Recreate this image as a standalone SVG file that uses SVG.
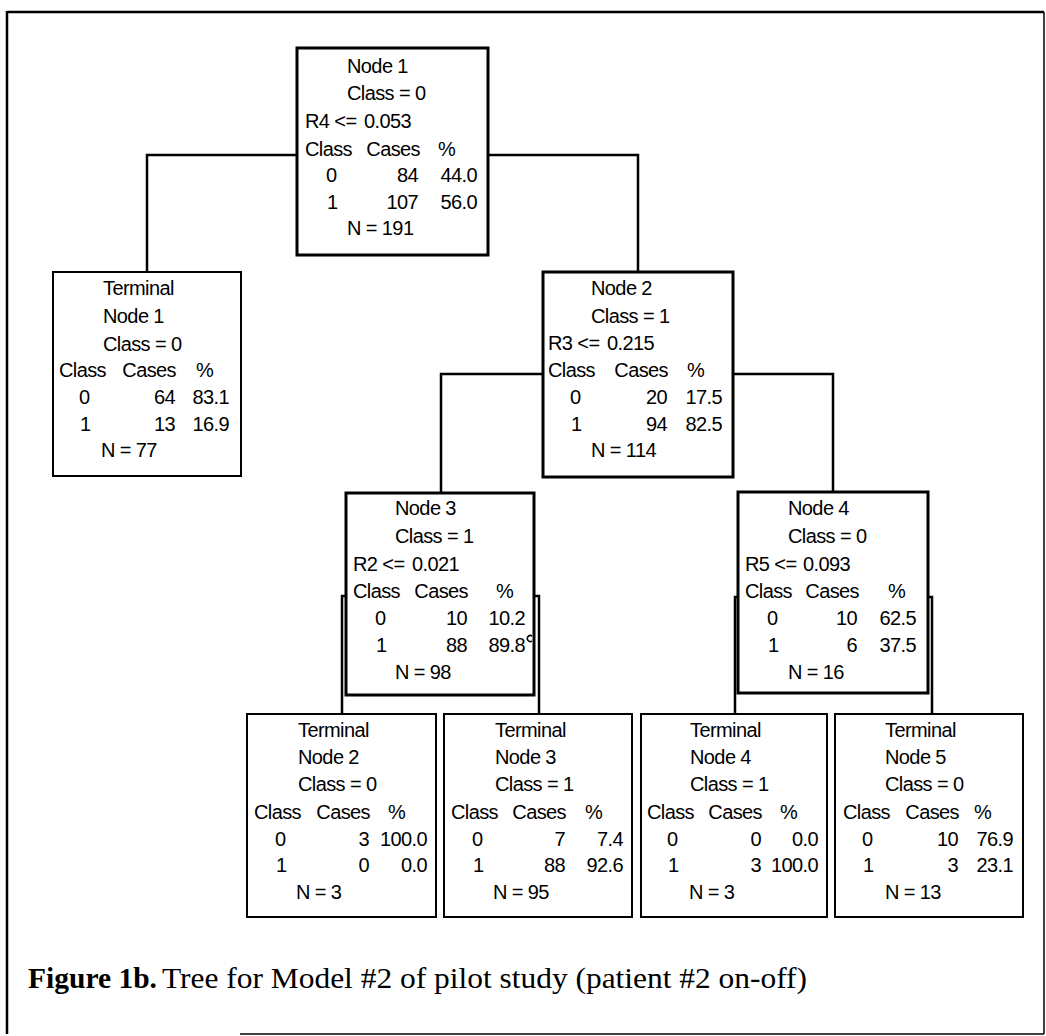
<svg xmlns="http://www.w3.org/2000/svg" width="1046" height="1036" viewBox="0 0 1046 1036">
<style>
.t{font-family:"Liberation Sans",Arial,sans-serif;font-size:20px;letter-spacing:-0.6px;fill:#000}
.e{text-anchor:end}
.split{fill:#fff;stroke:#000;stroke-width:3}
.term{fill:#fff;stroke:#000;stroke-width:2}
.conn{fill:none;stroke:#000;stroke-width:2.5}
.cap{font-family:"Liberation Serif","Times New Roman",serif;fill:#000;font-size:30px}
</style>
<rect width="1046" height="1036" fill="#fff"/>
<g id="frame" fill="none" stroke="#000">
<line x1="7" y1="12" x2="1044" y2="12" stroke-width="2.5"/>
<line x1="7" y1="11" x2="7" y2="1034" stroke-width="2.5"/>
<line x1="1044" y1="12" x2="1044" y2="1034" stroke-width="1.5"/>
<line x1="240" y1="1034" x2="1044" y2="1034" stroke-width="1.5"/>
</g>
<g id="connectors" class="conn">
<path d="M297,155 H147 V272"/>
<path d="M488,155 H638 V272"/>
<path d="M543,374 H441 V493"/>
<path d="M733,374 H833 V492"/>
<path d="M346,596 H342 V714"/>
<path d="M534,596 H539 V714"/>
<path d="M738,597 H735 V714"/>
<path d="M928,597 H932 V714"/>
</g>
<g id="node1">
<rect class="split" x="297" y="48" width="191" height="207"/>
<text class="t" x="347" y="73">Node 1</text>
<text class="t" x="347" y="100">Class = 0</text>
<text class="t" x="305" y="128">R4 &lt;=</text>
<text class="t" x="364" y="128">0.053</text>
<text class="t" x="305" y="156">Class</text>
<text class="t e" x="420" y="156">Cases</text>
<text class="t" x="438" y="156">%</text>
<text class="t" x="326" y="182">0</text>
<text class="t e" x="418" y="182">84</text>
<text class="t e" x="477" y="182">44.0</text>
<text class="t" x="327" y="209">1</text>
<text class="t e" x="418" y="209">107</text>
<text class="t e" x="477" y="209">56.0</text>
<text class="t" x="347" y="235">N = 191</text>
</g>
<g id="terminal1">
<rect class="term" x="53" y="272" width="188" height="204"/>
<text class="t" x="103" y="295">Terminal</text>
<text class="t" x="103" y="323">Node 1</text>
<text class="t" x="103" y="351">Class = 0</text>
<text class="t" x="59" y="377">Class</text>
<text class="t e" x="176" y="377">Cases</text>
<text class="t" x="196" y="377">%</text>
<text class="t" x="79" y="404">0</text>
<text class="t e" x="175" y="404">64</text>
<text class="t e" x="229" y="404">83.1</text>
<text class="t" x="80" y="431">1</text>
<text class="t e" x="175" y="431">13</text>
<text class="t e" x="229" y="431">16.9</text>
<text class="t" x="101" y="457">N = 77</text>
</g>
<g id="node2">
<rect class="split" x="543" y="272" width="190" height="205"/>
<text class="t" x="591" y="295">Node 2</text>
<text class="t" x="591" y="323">Class = 1</text>
<text class="t" x="548" y="350">R3 &lt;=</text>
<text class="t" x="607" y="350">0.215</text>
<text class="t" x="548" y="377">Class</text>
<text class="t e" x="668" y="377">Cases</text>
<text class="t" x="687" y="377">%</text>
<text class="t" x="570" y="404">0</text>
<text class="t e" x="667" y="404">20</text>
<text class="t e" x="722" y="404">17.5</text>
<text class="t" x="571" y="431">1</text>
<text class="t e" x="667" y="431">94</text>
<text class="t e" x="722" y="431">82.5</text>
<text class="t" x="591" y="457">N = 114</text>
</g>
<g id="node3">
<rect class="split" x="346" y="493" width="188" height="202"/>
<text class="t" x="395" y="515">Node 3</text>
<text class="t" x="395" y="543">Class = 1</text>
<text class="t" x="353" y="571">R2 &lt;=</text>
<text class="t" x="412" y="571">0.021</text>
<text class="t" x="353" y="598">Class</text>
<text class="t e" x="468" y="598">Cases</text>
<text class="t" x="496" y="598">%</text>
<text class="t" x="375" y="625">0</text>
<text class="t e" x="467" y="625">10</text>
<text class="t e" x="525" y="625">10.2</text>
<text class="t" x="376" y="652">1</text>
<text class="t e" x="467" y="652">88</text>
<text class="t e" x="525" y="652">89.8</text>
<text class="t" x="395" y="679">N = 98</text>
</g>
<g id="mark">
<path d="M532,636 A3,3 0 1 0 532,641" fill="none" stroke="#000" stroke-width="1.5"/>
</g>
<g id="node4">
<rect class="split" x="738" y="492" width="190" height="201"/>
<text class="t" x="788" y="515">Node 4</text>
<text class="t" x="788" y="543">Class = 0</text>
<text class="t" x="745" y="571">R5 &lt;=</text>
<text class="t" x="803" y="571">0.093</text>
<text class="t" x="745" y="598">Class</text>
<text class="t e" x="859" y="598">Cases</text>
<text class="t" x="888" y="598">%</text>
<text class="t" x="767" y="625">0</text>
<text class="t e" x="857" y="625">10</text>
<text class="t e" x="916" y="625">62.5</text>
<text class="t" x="768" y="652">1</text>
<text class="t e" x="857" y="652">6</text>
<text class="t e" x="916" y="652">37.5</text>
<text class="t" x="788" y="679">N = 16</text>
</g>
<g id="terminal2">
<rect class="term" x="247" y="714" width="189" height="203"/>
<text class="t" x="298" y="737">Terminal</text>
<text class="t" x="298" y="764">Node 2</text>
<text class="t" x="298" y="791">Class = 0</text>
<text class="t" x="254" y="819">Class</text>
<text class="t e" x="370" y="819">Cases</text>
<text class="t" x="388" y="819">%</text>
<text class="t" x="275" y="846">0</text>
<text class="t e" x="369" y="846">3</text>
<text class="t e" x="427" y="846">100.0</text>
<text class="t" x="276" y="872">1</text>
<text class="t e" x="369" y="872">0</text>
<text class="t e" x="427" y="872">0.0</text>
<text class="t" x="296" y="899">N = 3</text>
</g>
<g id="terminal3">
<rect class="term" x="444" y="714" width="188" height="203"/>
<text class="t" x="495" y="737">Terminal</text>
<text class="t" x="495" y="764">Node 3</text>
<text class="t" x="495" y="791">Class = 1</text>
<text class="t" x="451" y="819">Class</text>
<text class="t e" x="566" y="819">Cases</text>
<text class="t" x="585" y="819">%</text>
<text class="t" x="472" y="846">0</text>
<text class="t e" x="565" y="846">7</text>
<text class="t e" x="623" y="846">7.4</text>
<text class="t" x="473" y="872">1</text>
<text class="t e" x="565" y="872">88</text>
<text class="t e" x="623" y="872">92.6</text>
<text class="t" x="493" y="899">N = 95</text>
</g>
<g id="terminal4">
<rect class="term" x="641" y="714" width="186" height="203"/>
<text class="t" x="690" y="737">Terminal</text>
<text class="t" x="690" y="764">Node 4</text>
<text class="t" x="690" y="791">Class = 1</text>
<text class="t" x="647" y="819">Class</text>
<text class="t e" x="762" y="819">Cases</text>
<text class="t" x="780" y="819">%</text>
<text class="t" x="667" y="846">0</text>
<text class="t e" x="761" y="846">0</text>
<text class="t e" x="818" y="846">0.0</text>
<text class="t" x="668" y="872">1</text>
<text class="t e" x="761" y="872">3</text>
<text class="t e" x="818" y="872">100.0</text>
<text class="t" x="689" y="899">N = 3</text>
</g>
<g id="terminal5">
<rect class="term" x="835" y="714" width="188" height="203"/>
<text class="t" x="885" y="737">Terminal</text>
<text class="t" x="885" y="764">Node 5</text>
<text class="t" x="885" y="791">Class = 0</text>
<text class="t" x="843" y="819">Class</text>
<text class="t e" x="959" y="819">Cases</text>
<text class="t" x="974" y="819">%</text>
<text class="t" x="862" y="846">0</text>
<text class="t e" x="958" y="846">10</text>
<text class="t e" x="1013" y="846">76.9</text>
<text class="t" x="863" y="872">1</text>
<text class="t e" x="958" y="872">3</text>
<text class="t e" x="1013" y="872">23.1</text>
<text class="t" x="885" y="899">N = 13</text>
</g>
<g id="caption">
<text class="cap" x="28" y="988" font-weight="bold" textLength="129" lengthAdjust="spacingAndGlyphs">Figure 1b.</text>
<text class="cap" x="162" y="988" textLength="645" lengthAdjust="spacingAndGlyphs">Tree for Model #2 of pilot study (patient #2 on-off)</text>
</g>
</svg>
